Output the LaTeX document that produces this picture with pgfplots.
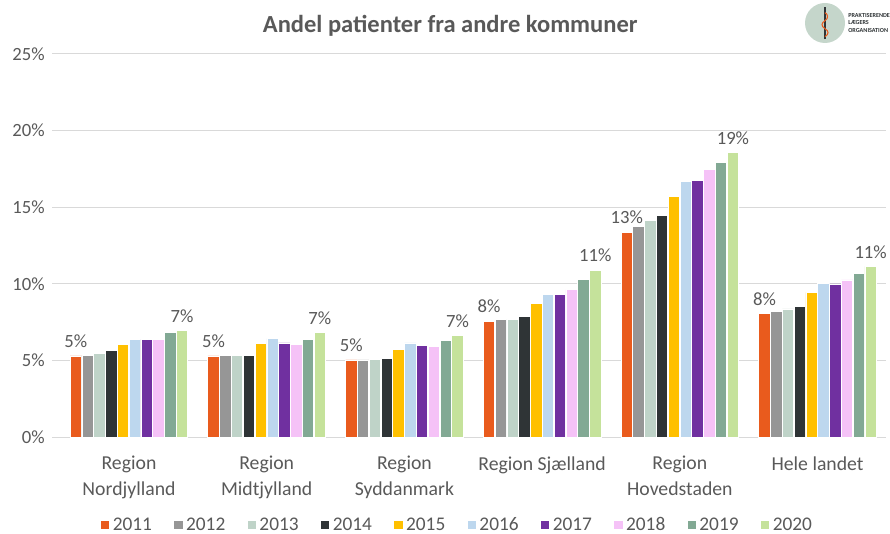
\documentclass[border=0pt]{standalone}
\usepackage{fontspec}
\setmainfont{Carlito}
\usepackage{pgfplots}
\pgfplotsset{compat=1.18}
\definecolor{txt}{HTML}{595959}
\definecolor{gridc}{HTML}{D9D9D9}
\definecolor{c11}{HTML}{E95B1D}
\definecolor{c12}{HTML}{969696}
\definecolor{c13}{HTML}{BFD3C8}
\definecolor{c14}{HTML}{2F3436}
\definecolor{c15}{HTML}{FFC000}
\definecolor{c16}{HTML}{BDD7EE}
\definecolor{c17}{HTML}{7030A0}
\definecolor{c18}{HTML}{F5C2F7}
\definecolor{c19}{HTML}{82A994}
\definecolor{c20}{HTML}{C5E29B}
\definecolor{logoc}{HTML}{C5D6CB}
\begin{document}
\begin{tikzpicture}
\begin{axis}[
  name=ax,
  scale only axis,
  width=625.5pt, height=287.25pt,
  ymin=0, ymax=25,
  xmin=-0.559, xmax=5.497,
  ybar=0.3pt, bar width=8.55pt,
  ytick={0,5,10,15,20,25},
  yticklabel={\pgfmathprintnumber{\tick}\%},
  /pgf/number format/assume math mode=true,
  ymajorgrids, grid style={gridc, line width=0.75pt},
  axis y line*=left, y axis line style={draw=none},
  axis x line*=bottom, x axis line style={gridc, line width=0.75pt},
  major tick length=0pt,
  xtick={0,1,2,3,4,5},
  xticklabels={{Region\\Nordjylland},{Region\\Midtjylland},{Region\\Syddanmark},{Region Sjælland},{Region\\Hovedstaden},{Hele landet}},
  xticklabel style={align=center, text=txt, font=\fontsize{14.8pt}{18.8pt}\selectfont, anchor=north, yshift=-11pt},
  yticklabel style={text=txt, font=\fontsize{14pt}{16pt}\selectfont, xshift=-2pt},
  title={\textbf{Andel patienter fra andre kommuner}},
  title style={text=txt, font=\fontsize{18.4pt}{21pt}\selectfont, at={(0.4775,1)}, anchor=south, yshift=3.5pt},
  legend columns=10,
  legend style={draw=none, at={(0.486,-0.2298)}, anchor=center, font=\fontsize{14.5pt}{16pt}\selectfont, text=txt,
    /tikz/every even column/.append style={column sep=14pt}},
  legend image code/.code={\fill[#1] (0pt,-3.5pt) rectangle (7pt,3.5pt);},
  every axis plot/.append style={draw=white, line width=0.6pt},
  nodes near coords style={text=txt, font=\fontsize{14pt}{16pt}\selectfont, yshift=2.5pt},
]
\addplot[fill=c11, nodes near coords={\pgfmathprintnumber[fixed,precision=0]{\pgfplotspointmeta}\%}] coordinates {(0,5.29) (1,5.29) (2,5.03) (3,7.57) (4,13.38) (5,8.05)};
\addplot[fill=c12] coordinates {(0,5.33) (1,5.33) (2,5.03) (3,7.66) (4,13.77) (5,8.20)};
\addplot[fill=c13] coordinates {(0,5.44) (1,5.33) (2,5.07) (3,7.68) (4,14.12) (5,8.36)};
\addplot[fill=c14] coordinates {(0,5.63) (1,5.35) (2,5.11) (3,7.85) (4,14.45) (5,8.55)};
\addplot[fill=c15] coordinates {(0,6.05) (1,6.09) (2,5.74) (3,8.70) (4,15.73) (5,9.44)};
\addplot[fill=c16] coordinates {(0,6.35) (1,6.42) (2,6.14) (3,9.33) (4,16.66) (5,10.03)};
\addplot[fill=c17] coordinates {(0,6.35) (1,6.14) (2,5.99) (3,9.31) (4,16.75) (5,9.99)};
\addplot[fill=c18] coordinates {(0,6.35) (1,6.05) (2,5.90) (3,9.62) (4,17.49) (5,10.25)};
\addplot[fill=c19] coordinates {(0,6.83) (1,6.38) (2,6.31) (3,10.31) (4,17.93) (5,10.70)};
\addplot[fill=c20, nodes near coords={\pgfmathprintnumber[fixed,precision=0]{\pgfplotspointmeta}\%}] coordinates {(0,6.96) (1,6.83) (2,6.61) (3,10.88) (4,18.55) (5,11.14)};
\legend{2011,2012,2013,2014,2015,2016,2017,2018,2019,2020}
\end{axis}
% logo
\fill[logoc] ([xshift=-45.75pt,yshift=23.25pt]ax.north east) circle (15pt);
\draw[c14, line width=0.9pt] ([xshift=-45.75pt,yshift=11pt]ax.north east) -- ([xshift=-45.75pt,yshift=35pt]ax.north east);
\draw[c11, line width=0.8pt] ([xshift=-45.75pt,yshift=13pt]ax.north east) .. controls +(3pt,2pt) and +(3pt,-2pt) .. ([xshift=-45.75pt,yshift=19pt]ax.north east) .. controls +(-3pt,2pt) and +(-3pt,-2pt) .. ([xshift=-45.75pt,yshift=25pt]ax.north east) .. controls +(3pt,2pt) and +(2pt,-1pt) .. ([xshift=-45.75pt,yshift=31pt]ax.north east);
\node[anchor=west, align=left, font=\fontsize{4.6pt}{5.6pt}\selectfont\bfseries, text=c14, inner sep=0pt] at ([xshift=-28.5pt,yshift=23.25pt]ax.north east) {PRAKTISERENDE\\LÆGERS\\ORGANISATION};
\pgfresetboundingbox
\path[use as bounding box] ([xshift=-39pt,yshift=-72.75pt]ax.south west) rectangle ([xshift=3pt,yshift=40.5pt]ax.north east);
\end{tikzpicture}
\end{document}
